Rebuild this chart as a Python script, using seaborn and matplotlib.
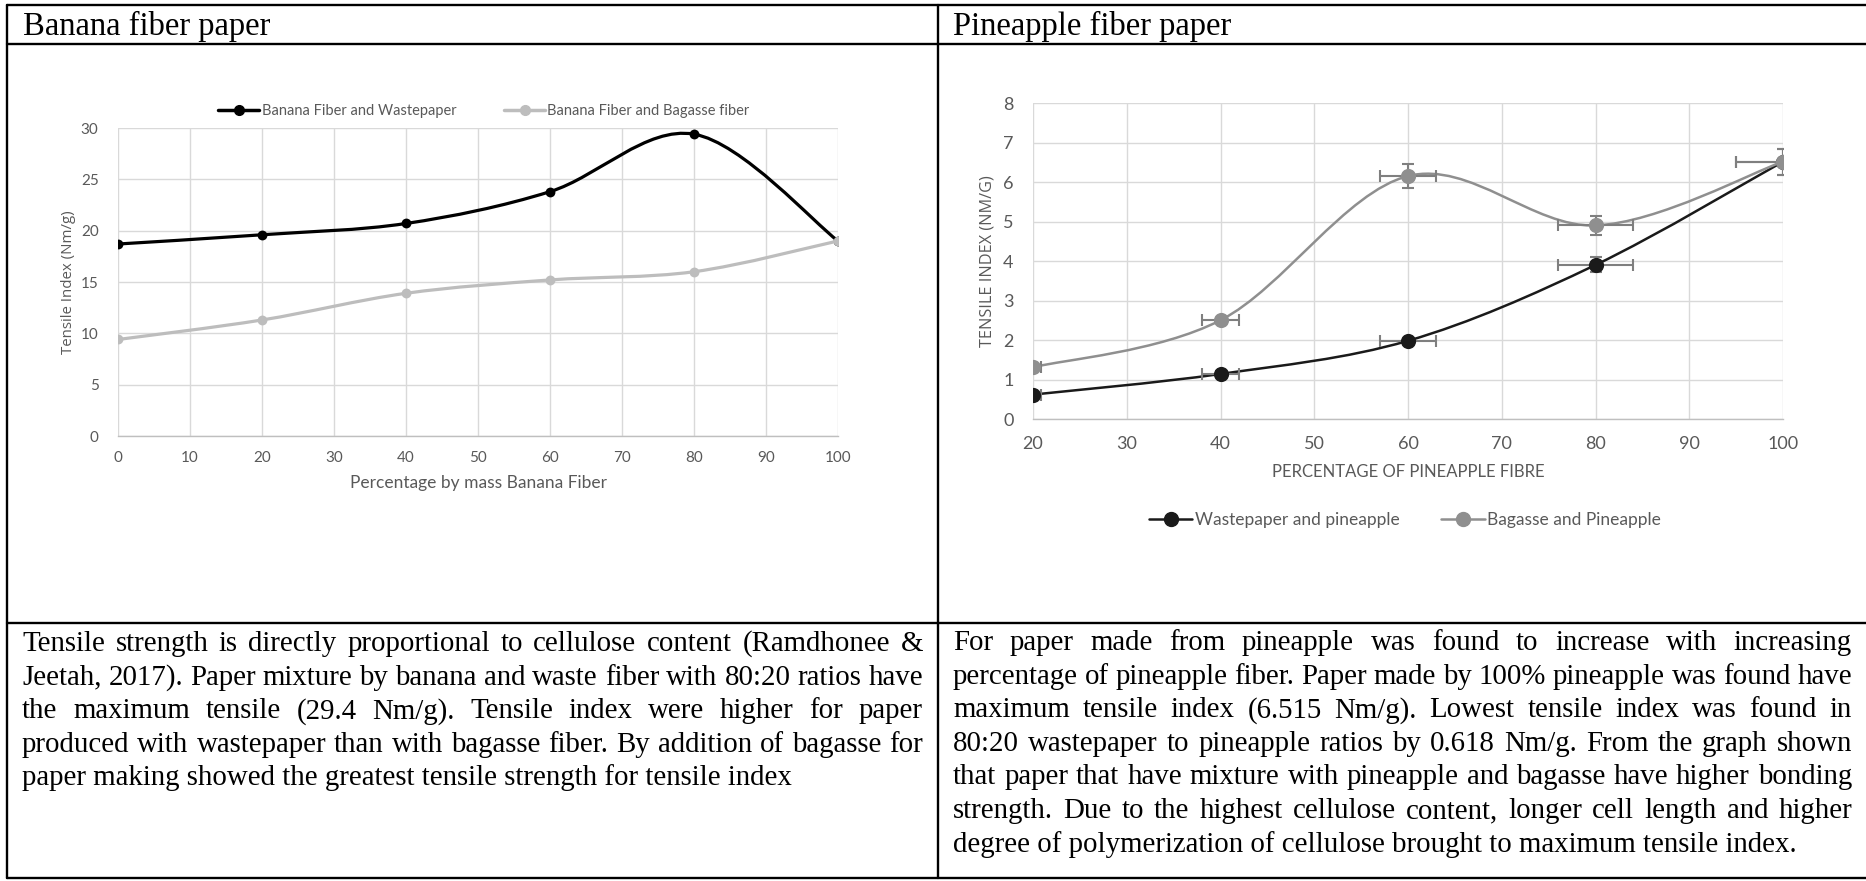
import numpy as np
import matplotlib
matplotlib.use("Agg")
import matplotlib.pyplot as plt
import seaborn as sns
from matplotlib.path import Path
from matplotlib.patches import PathPatch
from matplotlib.lines import Line2D
from matplotlib.transforms import IdentityTransform

# ---------------- data ----------------
banana_pct = [0, 20, 40, 60, 80, 100]
banana_waste = [18.7, 19.6, 20.7, 23.8, 29.4, 19.0]
banana_bagasse = [9.4, 11.3, 13.9, 15.2, 16.0, 19.0]
banana_labels = ["Banana Fiber and Wastepaper", "Banana Fiber and Bagasse fiber"]

pine_pct = [20, 40, 60, 80, 100]
pine_waste = [0.618, 1.14, 1.98, 3.9, 6.515]
pine_bagasse = [1.31, 2.5, 6.15, 4.9, 6.515]
pine_waste_xerr = [0.8, 2.0, 3.0, 4.0, 5.0]
pine_waste_yerr = [0.04, 0.07, 0.05, 0.19, 0.33]
pine_bagasse_xerr = [0.8, 2.0, 3.0, 4.0, 5.0]
pine_bagasse_yerr = [0.04, 0.05, 0.3, 0.25, 0.33]
pine_labels = ["Wastepaper and pineapple", "Bagasse and Pineapple"]

titles = ["Banana fiber paper", "Pineapple fiber paper"]

left_text = [
    "Tensile strength is directly proportional to cellulose content (Ramdhonee &",
    "Jeetah, 2017). Paper mixture by banana and waste fiber with 80:20 ratios have",
    "the maximum tensile (29.4 Nm/g). Tensile index were higher for paper",
    "produced with wastepaper than with bagasse fiber. By addition of bagasse for",
    "paper making showed the greatest tensile strength for tensile index",
]
right_text = [
    "For paper made from pineapple was found to increase with increasing",
    "percentage of pineapple fiber. Paper made by 100% pineapple was found have",
    "maximum tensile index (6.515 Nm/g). Lowest tensile index was found in",
    "80:20 wastepaper to pineapple ratios by 0.618 Nm/g. From the graph shown",
    "that paper that have mixture with pineapple and bagasse have higher bonding",
    "strength. Due to the highest cellulose content, longer cell length and higher",
    "degree of polymerization of cellulose brought to maximum tensile index.",
]

# ---------------- setup ----------------
sns.set_theme(style="white")
plt.rcParams["font.family"] = ["Lato", "DejaVu Sans"]

W, H = 1866, 881
fig = plt.figure(figsize=(W / 100, H / 100), dpi=100)
fig.patch.set_facecolor("white")

TXT = "#595959"
GRID = "#d9d9d9"


def px_axes(x0, y0, x1, y1):
    return fig.add_axes([x0 / W, 1 - y1 / H, (x1 - x0) / W, (y1 - y0) / H])


def smooth_path(xs, ys):
    pts = np.column_stack([xs, ys]).astype(float)
    n = len(pts)
    verts = [pts[0]]
    codes = [Path.MOVETO]
    for i in range(n - 1):
        p0 = pts[i - 1] if i > 0 else pts[i]
        p1 = pts[i]
        p2 = pts[i + 1]
        p3 = pts[i + 2] if i + 2 < n else pts[i + 1]
        c1 = p1 + (p2 - p0) / 6.0
        c2 = p2 - (p3 - p1) / 6.0
        verts += [c1, c2, p2]
        codes += [Path.CURVE4] * 3
    return Path(verts, codes)


def style_axes(ax, xlim, ylim, xticks, yticks, tick_fs, xpad, ypad):
    ax.set_xlim(*xlim)
    ax.set_ylim(*ylim)
    ax.set_xticks(xticks)
    ax.set_yticks(yticks)
    ax.grid(True, color=GRID, lw=1.0, zorder=0)
    ax.set_axisbelow(True)
    for s in ["top", "right", "left"]:
        ax.spines[s].set_visible(False)
    ax.spines["bottom"].set_color("#bfbfbf")
    ax.spines["bottom"].set_linewidth(1.0)
    ax.tick_params(axis="both", length=0, labelsize=tick_fs, colors=TXT)
    ax.tick_params(axis="x", pad=xpad)
    ax.tick_params(axis="y", pad=ypad)
    ax.set_facecolor("none")


# ---------------- left chart ----------------
axL = px_axes(118, 128, 838, 436)
style_axes(axL, (0, 100), (0, 30), range(0, 101, 10), range(0, 31, 5), 11, 11, 14)
c_bk_L, c_gr_L = "#000000", "#bdbdbd"
axL.add_patch(PathPatch(smooth_path(banana_pct, banana_waste), fill=False,
                        edgecolor=c_bk_L, lw=2.3, zorder=3, capstyle="round"))
sns.scatterplot(x=banana_pct, y=banana_waste, ax=axL, color=c_bk_L, s=50,
                edgecolor=c_bk_L, linewidth=0, zorder=4, legend=False)
axL.add_patch(PathPatch(smooth_path(banana_pct, banana_bagasse), fill=False,
                        edgecolor=c_gr_L, lw=2.3, zorder=5, capstyle="round"))
sns.scatterplot(x=banana_pct, y=banana_bagasse, ax=axL, color=c_gr_L, s=50,
                edgecolor=c_gr_L, linewidth=0, zorder=6, legend=False)
axL.set_xlabel("Percentage by mass Banana Fiber", fontsize=12.5, color=TXT)
axL.xaxis.set_label_coords(0.5, -(483 - 436) / 308)
axL.xaxis.label.set_va("center")
axL.set_ylabel("Tensile Index (Nm/g)", fontsize=10.8, color=TXT,
               family=["Open Sans", "DejaVu Sans"])
axL.yaxis.set_label_coords((68 - 118) / 720, 0.5)
axL.yaxis.label.set_va("center")

hL = [Line2D([], [], color=c_bk_L, lw=2.5, marker="o", ms=7),
      Line2D([], [], color=c_gr_L, lw=2.5, marker="o", ms=7)]
fig.legend(hL, banana_labels, loc="center", bbox_to_anchor=(484 / W, 1 - 111 / H),
           ncol=2, frameon=False, fontsize=10.5, labelcolor=TXT, handlelength=2.8,
           handletextpad=0.15, columnspacing=3.3)

# ---------------- right chart ----------------
axR = px_axes(1033, 103, 1783, 419)
style_axes(axR, (20, 100), (0, 8), range(20, 101, 10), range(0, 9, 1), 13, 12, 14)
c_bk_R, c_gr_R = "#1a1a1a", "#8f8f8f"
ERR = "#7f7f7f"
axR.add_patch(PathPatch(smooth_path(pine_pct, pine_waste), fill=False,
                        edgecolor=c_bk_R, lw=1.8, zorder=3))
axR.errorbar(pine_pct, pine_waste, xerr=pine_waste_xerr, yerr=pine_waste_yerr,
             fmt="none", ecolor=ERR, elinewidth=1.5, capsize=4, capthick=1.5, zorder=4)
sns.scatterplot(x=pine_pct, y=pine_waste, ax=axR, color=c_bk_R, s=120,
                edgecolor=c_bk_R, linewidth=0, zorder=5, legend=False)
axR.add_patch(PathPatch(smooth_path(pine_pct, pine_bagasse), fill=False,
                        edgecolor=c_gr_R, lw=1.8, zorder=6))
axR.errorbar(pine_pct, pine_bagasse, xerr=pine_bagasse_xerr, yerr=pine_bagasse_yerr,
             fmt="none", ecolor=ERR, elinewidth=1.5, capsize=4, capthick=1.5, zorder=7)
sns.scatterplot(x=pine_pct, y=pine_bagasse, ax=axR, color=c_gr_R, s=120,
                edgecolor=c_gr_R, linewidth=0, zorder=8, legend=False)
axR.set_xlabel("PERCENTAGE OF PINEAPPLE FIBRE", fontsize=12, color=TXT)
axR.xaxis.set_label_coords(0.5, -(472 - 419) / 316)
axR.xaxis.label.set_va("center")
axR.set_ylabel("TENSILE INDEX (NM/G)", fontsize=11.7, color=TXT,
               family=["Open Sans", "DejaVu Sans"])
axR.yaxis.set_label_coords((987 - 1033) / 750, 0.5)
axR.yaxis.label.set_va("center")

hR = [Line2D([], [], color=c_bk_R, lw=1.8, marker="o", ms=10),
      Line2D([], [], color=c_gr_R, lw=1.8, marker="o", ms=10)]
fig.legend(hR, pine_labels, loc="center", bbox_to_anchor=(1405 / W, 1 - 520 / H),
           ncol=2, frameon=False, fontsize=12.5, labelcolor=TXT, handlelength=2.5,
           handletextpad=0.15, columnspacing=2.4)

# ---------------- table lines ----------------
LW = 1.7
for (x0, y0, x1, y1) in [(7, 5, W, 5), (7, 43.5, W, 43.5), (7, 622.7, W, 622.7),
                         (7, 878, W, 878), (7, 5, 7, 878), (937.7, 5, 937.7, 878)]:
    fig.add_artist(Line2D([x0 / W, x1 / W], [1 - y0 / H, 1 - y1 / H],
                          color="black", lw=LW, transform=fig.transFigure))

SERIF = ["Liberation Serif", "DejaVu Serif"]
fig.text(23, H - 35, titles[0], transform=IdentityTransform(), fontsize=23.5,
         family=SERIF, color="black", va="baseline", ha="left")
fig.text(953, H - 35, titles[1], transform=IdentityTransform(), fontsize=23.5,
         family=SERIF, color="black", va="baseline", ha="left")

# ---------------- justified paragraphs ----------------
renderer = fig.canvas.get_renderer()
PFS = 20.8


def paragraph(lines, x0, x1, base0, dy):
    for i, line in enumerate(lines):
        yb = H - (base0 + i * dy)
        if i == len(lines) - 1:
            fig.text(x0, yb, line, transform=IdentityTransform(), fontsize=PFS,
                     family=SERIF, color="black", va="baseline", ha="left")
            continue
        words = line.split(" ")
        ts = [fig.text(0, yb, w, transform=IdentityTransform(), fontsize=PFS,
                       family=SERIF, color="black", va="baseline", ha="left")
              for w in words]
        widths = [t.get_window_extent(renderer).width for t in ts]
        gap = (x1 - x0 - sum(widths)) / (len(words) - 1)
        x = x0
        for t, w in zip(ts, widths):
            t.set_x(x)
            x += w + gap


paragraph(left_text, 22, 923, 651, 33.6)
paragraph(right_text, 953, 1852, 650, 33.6)

fig.savefig("out.png", dpi=100, facecolor="white")
